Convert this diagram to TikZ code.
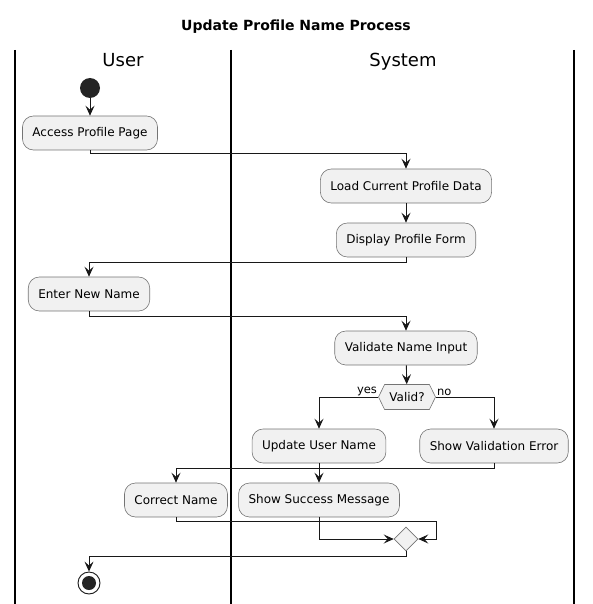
\documentclass[tikz,border=0pt]{standalone}
\usepackage{fontspec}
\setmainfont{DejaVu Sans}
\usetikzlibrary{arrows.meta,shapes.geometric,shapes.symbols}
\definecolor{boxfill}{HTML}{F1F1F1}
\definecolor{ink}{HTML}{181818}
\begin{document}
\begin{tikzpicture}[x=1pt,y=-1pt,
  act/.style={draw=ink!60, line width=0.6pt, fill=boxfill, rounded corners=11pt,
    minimum height=34pt, inner xsep=10pt, font=\fontsize{12}{14}\selectfont},
  arr/.style={draw=ink, line width=0.9pt, -{Stealth[length=10pt,width=9pt,inset=4pt]}},
  ln/.style={draw=ink, line width=0.9pt},
  lane/.style={draw=black, line width=1.3pt},
  hdr/.style={font=\fontsize{18}{20}\selectfont, text height=13pt, text depth=4pt, inner sep=0},
  lbl/.style={font=\fontsize{11.5}{13}\selectfont, inner sep=1pt}]
\useasboundingbox (0,0) rectangle (592,604);
% title and lanes
\node[font=\bfseries\fontsize{14}{16}\selectfont] (title) at (296,27) {Update Profile Name Process};
\draw[lane] (15,50) -- (15,604);
\draw[lane] (231,50) -- (231,604);
\draw[lane] (574,50) -- (574,604);
\node[hdr] (user) at (123,62) {User};
\node[hdr] (system) at (403,62) {System};
% nodes
\node[circle, fill=ink!95, minimum size=20pt, inner sep=0] (start) at (90,88) {};
\node[act] (access) at (90,133) {Access Profile Page};
\node[act] (load) at (406,186) {Load Current Profile Data};
\node[act] (form) at (406,240) {Display Profile Form};
\node[act] (enter) at (89,294) {Enter New Name};
\node[act] (validate) at (406,348) {Validate Name Input};
\node[signal, signal to=west and east, signal pointer angle=128, draw=ink!60, line width=0.6pt,
  fill=boxfill, minimum width=57pt, minimum height=25pt, inner sep=1pt,
  font=\fontsize{12}{14}\selectfont] (valid) at (407,397) {Valid?};
\node[act] (update) at (319,446) {Update User Name};
\node[act] (error) at (494,446) {Show Validation Error};
\node[act] (correct) at (176,500) {Correct Name};
\node[act] (success) at (319,500) {Show Success Message};
\node[diamond, draw=ink!60, line width=0.6pt, fill=boxfill, minimum width=24pt, minimum height=24pt, inner sep=0] (merge) at (406,539) {};
\node[circle, draw=ink, line width=0.9pt, fill=white, minimum size=22pt, inner sep=0] (stop) at (89,583) {};
\node[circle, fill=ink!95, minimum size=14pt, inner sep=0] (stopdot) at (89,583) {};
% connectors
\draw[arr] (start) -- (access);
\coordinate (c1) at (90,153);
\draw[arr] (access.south) -- (c1) -| (load.north);
\draw[arr] (load) -- (form);
\coordinate (c2) at (406,262);
\draw[arr] (form.south) -- (c2) -| (enter.north);
\coordinate (c3) at (89,316);
\draw[arr] (enter.south) -- (c3) -| (validate.north);
\draw[arr] (validate) -- (valid);
\draw[arr] (valid.west) -| (update.north);
\draw[arr] (valid.east) -| (error.north);
\node[lbl, anchor=south east] (yes) at (valid.west) {yes};
\node[lbl, anchor=south west] (no) at (valid.east) {no};
\coordinate (c4) at (494,468);
\draw[arr] (error.south) -- (c4) -| (correct.north);
\draw[arr] (update) -- (success);
\coordinate (c5) at (176,521);
\coordinate (c6) at (436,521);
\draw[arr] (correct.south) -- (c5) -- (c6) |- (merge.east);
\draw[arr] (success.south) |- (merge.west);
\coordinate (c7) at (406,556);
\draw[arr] (merge.south) -- (c7) -| (stop.north);
\end{tikzpicture}
\end{document}
